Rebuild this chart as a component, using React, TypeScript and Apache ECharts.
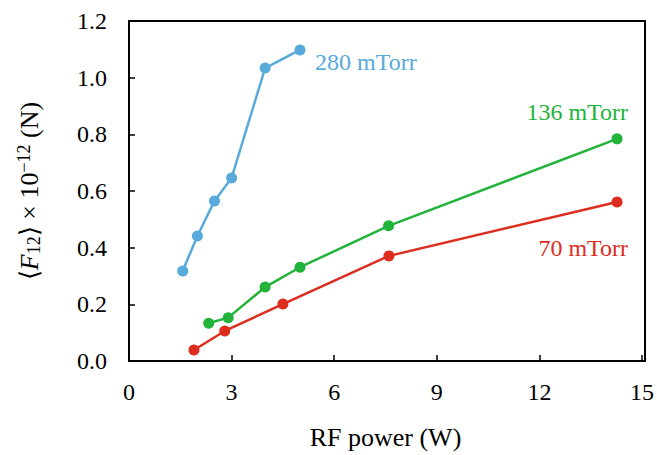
import React, { useEffect, useRef } from "react";
import * as echarts from "echarts";

const xTicks = [0, 3, 6, 9, 12, 15];
const yTicks = [0, 0.2, 0.4, 0.6, 0.8, 1.0, 1.2];

const power280 = [1.57, 2.0, 2.5, 3.0, 3.98, 5.0];
const force280 = [0.318, 0.441, 0.565, 0.646, 1.034, 1.098];

const power136 = [2.33, 2.9, 3.98, 5.0, 7.59, 14.27];
const force136 = [0.133, 0.153, 0.261, 0.331, 0.477, 0.784];

const power70 = [1.9, 2.8, 4.5, 7.6, 14.27];
const force70 = [0.039, 0.106, 0.201, 0.371, 0.561];

const FONT = "'Liberation Serif', 'Times New Roman', serif";

const zip = (xs: number[], ys: number[]) => xs.map((x, i) => [x, ys[i]]);

export default function App() {
  const ref = useRef<HTMLDivElement>(null);
  useEffect(() => {
    if (!ref.current) return;
    const chart = echarts.init(ref.current, null, { renderer: "svg" });
    const mk = (name: string, color: string, data: number[][], label: any) => ({
      name,
      type: "line",
      data,
      symbol: "circle",
      symbolSize: 11,
      itemStyle: { color },
      lineStyle: { color, width: 2.5 },
      endLabel: {
        show: true,
        formatter: name,
        color,
        fontFamily: FONT,
        fontSize: 24,
        ...label,
      },
      z: 3,
    });
    chart.setOption({
      animation: false,
      backgroundColor: "#ffffff",
      grid: { left: 129, right: 12, top: 21, bottom: 94, show: false },
      xAxis: {
        type: "value",
        min: xTicks[0],
        max: xTicks[xTicks.length - 1],
        interval: 3,
        name: "RF power (W)",
        nameLocation: "middle",
        nameGap: 63,
        nameTextStyle: { fontFamily: FONT, fontSize: 26, color: "#000" },
        axisLine: { show: true, onZero: false, lineStyle: { color: "#000", width: 2 } },
        axisTick: { show: true, inside: true, length: 6, lineStyle: { color: "#000", width: 1.5 } },
        axisLabel: { fontFamily: FONT, fontSize: 24, color: "#000", margin: 19 },
        splitLine: { show: false },
      },
      yAxis: {
        type: "value",
        min: yTicks[0],
        max: yTicks[yTicks.length - 1],
        interval: 0.2,
        name: "{a|\u27E8}{i|F}{sub|12}{a|\u27E9 × 10}{sup|\u221212}{a| (N)}",
        nameLocation: "middle",
        nameRotate: 90,
        nameGap: 86,
        nameTextStyle: {
          color: "#000",
          rich: {
            a: { fontFamily: FONT, fontSize: 26, color: "#000" },
            i: { fontFamily: FONT, fontSize: 26, fontStyle: "italic", color: "#000" },
            sub: { fontFamily: FONT, fontSize: 18, color: "#000", verticalAlign: "bottom", padding: [8, 0, 0, 0] },
            sup: { fontFamily: FONT, fontSize: 18, color: "#000", verticalAlign: "top", padding: [0, 0, 10, 0] },
          },
        },
        axisLine: { show: true, lineStyle: { color: "#000", width: 2 } },
        axisTick: { show: true, inside: true, length: 6, lineStyle: { color: "#000", width: 1.5 } },
        axisLabel: {
          fontFamily: FONT,
          fontSize: 24,
          color: "#000",
          margin: 22,
          formatter: (v: number) => v.toFixed(1),
        },
        splitLine: { show: false },
      },
      series: [
        mk("280 mTorr", "#58aadb", zip(power280, force280), {
          position: "right",
          distance: 5,
          offset: [10, 12],
        }),
        mk("136 mTorr", "#22b43a", zip(power136, force136), {
          position: "top",
          distance: 5,
          align: "right",
          offset: [6, -27],
        }),
        mk("70 mTorr", "#dc2d1e", zip(power70, force70), {
          position: "bottom",
          distance: 5,
          align: "right",
          offset: [6, 46],
        }),
      ],
      graphic: [
        {
          type: "rect",
          shape: { x: 129, y: 21, width: 516, height: 340 },
          style: { fill: "none", stroke: "#000", lineWidth: 2 },
          z: 10,
          silent: true,
        },
      ],
    });
    return () => chart.dispose();
  }, []);
  return (
    <div
      ref={ref}
      style={{ position: "fixed", left: 0, top: 0, width: 657, height: 455 }}
    />
  );
}
